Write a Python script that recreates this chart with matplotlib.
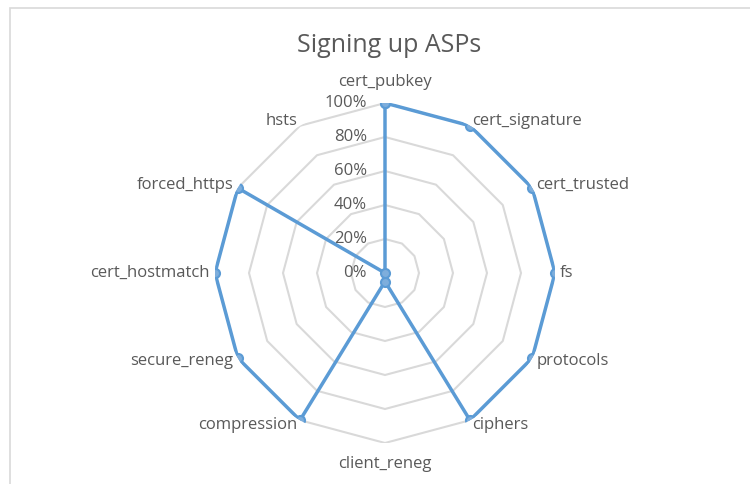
import numpy as np
import matplotlib
matplotlib.use("Agg")
import matplotlib.pyplot as plt
from matplotlib.patches import Rectangle

categories = ["cert_pubkey", "cert_signature", "cert_trusted", "fs", "protocols",
              "ciphers", "client_reneg", "compression", "secure_reneg",
              "cert_hostmatch", "forced_https", "hsts"]
values = [1.0, 1.0, 1.0, 1.0, 1.0, 1.0, 0.05, 1.0, 1.0, 1.0, 1.0, 0.0]
ring_levels = [0.0, 0.2, 0.4, 0.6, 0.8, 1.0]
ring_labels = ["0%", "20%", "40%", "60%", "80%", "100%"]
title = "Signing up ASPs"

plt.rcParams['font.family'] = ['Open Sans', 'DejaVu Sans']
text_color = "#595959"
grid_color = "#D9D9D9"
line_color = "#5B9BD5"

fig = plt.figure(figsize=(7.5, 4.84), dpi=100)
fig.patch.set_facecolor("white")
fig.add_artist(Rectangle((10 / 750, -0.1), 1.0, 1 - 8 / 484 + 0.1, transform=fig.transFigure,
                         fill=False, edgecolor=grid_color, linewidth=1.2))

ax = fig.add_axes([215 / 750, (484 - 443) / 484, 340 / 750, 340 / 484], projection="polar")
ax.set_theta_zero_location("N")
ax.set_theta_direction(-1)
ax.set_ylim(0, 1)
ax.grid(False)
ax.spines["polar"].set_visible(False)
ax.set_xticks([])
ax.set_yticks([])
ax.patch.set_alpha(0)

n = len(categories)
theta = np.arange(n) * 2 * np.pi / n
theta_closed = np.append(theta, theta[0])

for lvl in ring_levels[1:]:
    ax.plot(theta_closed, [lvl] * (n + 1), color=grid_color, linewidth=1.5, zorder=1)

vals_closed = values + [values[0]]
ax.plot(theta_closed, vals_closed, color=line_color, linewidth=2.5, zorder=3,
        marker="o", markersize=6.5, markerfacecolor="#7EAEDC", markeredgecolor=line_color,
        markeredgewidth=1.5)

for lvl, lab in zip(ring_levels, ring_labels):
    ax.annotate(lab, xy=(0, lvl), xytext=(-18, 0), textcoords="offset pixels",
                ha="right", va="center", fontsize=12, color=text_color, zorder=2)

for t, cat in zip(theta, categories):
    s, c = np.sin(t), np.cos(t)
    if abs(s) < 1e-6:
        off = (0, 21 * c)
        ha = "center"
    else:
        off = (5 * s, 6 * c)
        ha = "left" if s > 0 else "right"
    ax.annotate(cat, xy=(t, 1.0), xytext=off, textcoords="offset pixels",
                ha=ha, va="center", fontsize=12, color=text_color, annotation_clip=False)

fig.text(389 / 750, 1 - 45 / 484, title, ha="center", va="center", fontsize=18, color=text_color)

fig.savefig("out.png", dpi=100)
